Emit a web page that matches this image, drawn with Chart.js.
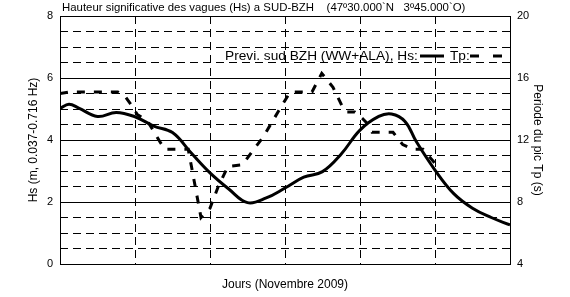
<!DOCTYPE html>
<html>
<head>
<meta charset="utf-8">
<script src="https://cdn.jsdelivr.net/npm/chart.js@4.4.1/dist/chart.umd.min.js"></script>
<style>
  html, body { margin: 0; padding: 0; background: #fff; }
</style>
</head>
<body>
<canvas id="vagues" width="570" height="297"></canvas>
<script>
// Hs (m), read roughly every 6 hours from day 0 to day 6
const hsDays = [0, 0.12, 0.25, 0.5, 0.75, 1, 1.25, 1.5, 1.75, 2, 2.25, 2.5, 2.75, 3,
                3.25, 3.5, 3.75, 4, 4.25, 4.42, 4.6, 4.75, 5, 5.25, 5.5, 5.75, 6];
const hsValues = [5.02, 5.15, 5.03, 4.76, 4.89, 4.75, 4.45, 4.24, 3.58, 2.94, 2.42, 1.98, 2.13, 2.45,
                  2.8, 2.98, 3.55, 4.32, 4.76, 4.84, 4.6, 3.95, 3.03, 2.27, 1.8, 1.5, 1.26];

// Tp (s), peak period
const tpDays = [0, 0.13, 0.77, 0.87, 0.93, 1.03, 1.17, 1.33, 1.4, 1.71, 1.88, 2.0, 2.11,
                2.24, 2.43, 2.57, 2.71, 2.93, 3.07, 3.36, 3.49, 3.64, 3.76, 3.83, 3.93,
                4.03, 4.09, 4.16, 4.44, 4.57, 4.71, 4.84, 5.0];
const tpValues = [15.0, 15.1, 15.1, 14.8, 14.4, 13.65, 13.2, 11.9, 11.4, 11.4, 7.0, 7.6, 9.0,
                  10.3, 10.4, 11.3, 12.2, 14.0, 15.1, 15.1, 16.3, 15.4, 14.2, 13.8, 13.8,
                  13.4, 13.1, 12.5, 12.5, 11.7, 11.4, 11.4, 10.5];

const hsTicks = [0, 2, 4, 6, 8];
const tpTicks = [4, 8, 12, 16, 20];

const titre = 'Hauteur significative des vagues (Hs) a SUD-BZH    (47\u00BA30.000`N   3\u00BA45.000`O)';
const legendeTexte = 'Previ. sud BZH (WW+ALA), Hs:';
const police = '"Liberation Sans", Arial, Helvetica, sans-serif';

// title + legend drawn by hand, the legend sits inside the plot
const decor = {
  id: 'decor',
  afterDraw(chart) {
    const ctx = chart.ctx;
    const area = chart.chartArea;
    ctx.save();
    ctx.fillStyle = '#000';
    ctx.textBaseline = 'middle';
    ctx.font = '11.4px ' + police;
    ctx.fillText(titre, area.left + 2, 8);

    ctx.font = '13.7px ' + police;
    ctx.fillText(legendeTexte, 225, 56);
    ctx.strokeStyle = '#000';
    ctx.lineWidth = 3;
    ctx.beginPath();
    ctx.moveTo(420, 56);
    ctx.lineTo(444, 56);
    ctx.stroke();
    ctx.fillText('Tp:', 450, 56);
    ctx.setLineDash([9, 14]);
    ctx.beginPath();
    ctx.moveTo(470, 56);
    ctx.lineTo(507, 56);
    ctx.stroke();
    ctx.restore();
  }
};

const ctx = document.getElementById('vagues').getContext('2d');
const chart = new Chart(ctx, {
  type: 'line',
  data: {
    datasets: [{
      label: 'Hs',
      data: hsDays.map((d, i) => ({ x: d, y: hsValues[i] })),
      yAxisID: 'y',
      borderColor: '#000',
      borderWidth: 3,
      pointRadius: 0,
      tension: 0.4
    }, {
      label: 'Tp',
      data: tpDays.map((d, i) => ({ x: d, y: tpValues[i] })),
      yAxisID: 'yTp',
      borderColor: '#000',
      borderWidth: 3,
      borderDash: [8, 9],
      pointRadius: 0,
      tension: 0
    }]
  },
  options: {
    responsive: false,
    animation: false,
    devicePixelRatio: 1,
    layout: { padding: { top: 16, left: 0, right: 0, bottom: 0 } },
    plugins: {
      legend: { display: false },
      tooltip: { enabled: false }
    },
    scales: {
      x: {
        type: 'linear',
        min: 0,
        max: 6,
        ticks: { stepSize: 1, display: false },
        grid: { color: '#000', lineWidth: 1, drawTicks: false },
        border: { display: true, color: '#000', dash: [8, 5] },
        title: {
          display: true,
          text: 'Jours (Novembre 2009)',
          color: '#000',
          font: { family: police, size: 12 },
          padding: { top: 0, bottom: 5 }
        },
        afterFit(scale) { scale.height = 33; }
      },
      y: {
        position: 'left',
        min: 0,
        max: 8,
        afterBuildTicks(scale) { scale.ticks = hsTicks.map(v => ({ value: v })); },
        ticks: { color: '#000', padding: 7, font: { family: police, size: 11 } },
        grid: { color: '#000', lineWidth: 1, drawTicks: false },
        border: { color: '#000' },
        title: {
          display: true,
          text: 'Hs (m, 0.037-0.716 Hz)',
          color: '#000',
          font: { family: police, size: 12 },
          padding: { top: 26, bottom: 0 }
        },
        afterFit(scale) { scale.width = 60; }
      },
      yMinor: {
        position: 'left',
        min: 0,
        max: 8,
        ticks: { stepSize: 0.5, display: false },
        grid: {
          drawTicks: false,
          lineWidth: 1,
          color: c => (c.tick && c.tick.value % 2 === 0) ? 'rgba(0,0,0,0)' : '#000'
        },
        border: { display: false, dash: [8, 5] },
        afterFit(scale) { scale.width = 0; }
      },
      yTp: {
        position: 'right',
        min: 4,
        max: 20,
        afterBuildTicks(scale) { scale.ticks = tpTicks.map(v => ({ value: v })); },
        ticks: { color: '#000', padding: 7, font: { family: police, size: 11 } },
        grid: { drawOnChartArea: false, drawTicks: false },
        border: { color: '#000' },
        title: {
          display: true,
          text: 'Periode du pic Tp (s)',
          color: '#000',
          font: { family: police, size: 12 },
          padding: { top: 25, bottom: 0 }
        },
        afterFit(scale) { scale.width = 60; }
      }
    }
  },
  plugins: [decor]
});
</script>
</body>
</html>
